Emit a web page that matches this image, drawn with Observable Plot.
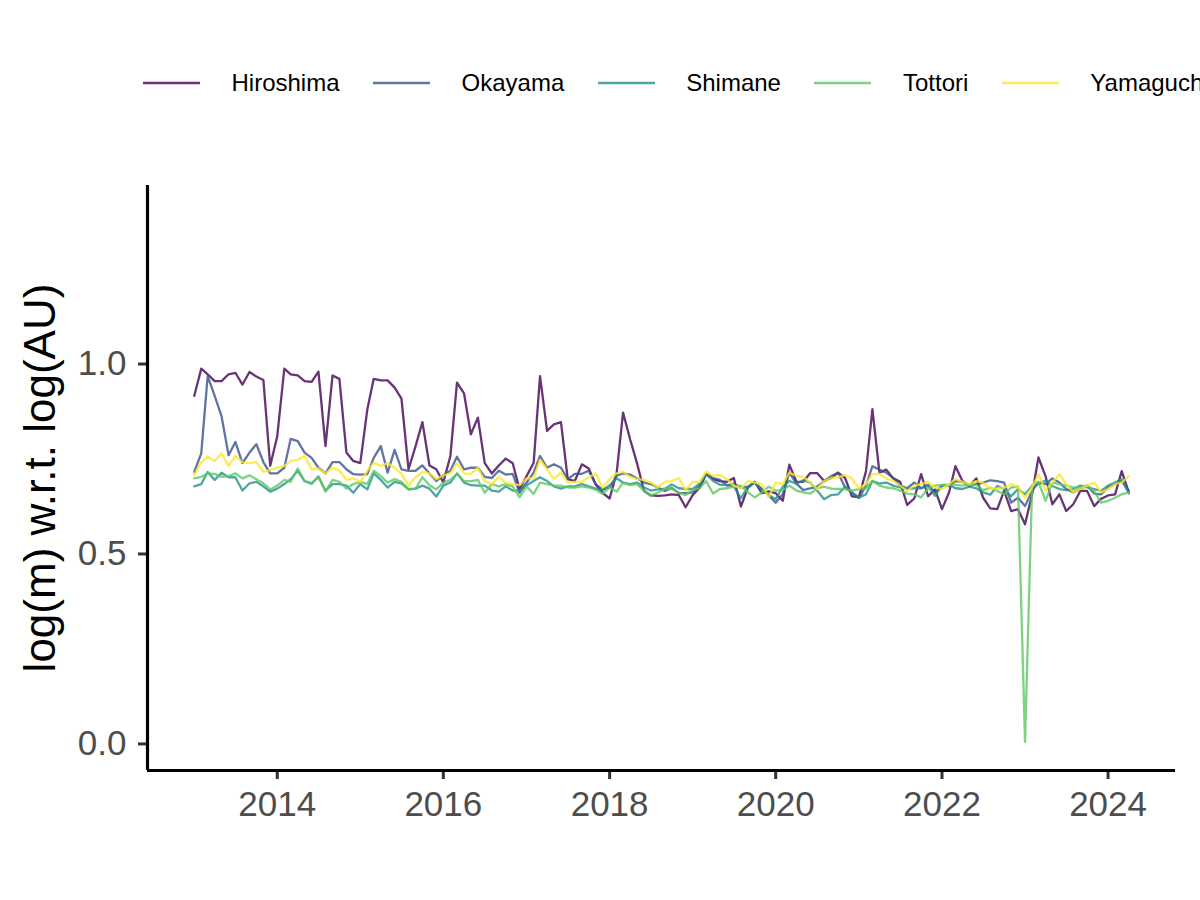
<!DOCTYPE html>
<html><head><meta charset="utf-8">
<script src="https://cdn.jsdelivr.net/npm/d3@7"></script>
<script src="https://cdn.jsdelivr.net/npm/@observablehq/plot@0.6"></script>
<style>
html,body{margin:0;background:#fff;overflow:hidden;}
#wrap{position:relative;width:1200px;height:900px;overflow:hidden;font-family:"Liberation Sans",Arial,sans-serif;}
#legend{position:absolute;left:143px;top:71px;display:flex;align-items:center;white-space:nowrap;height:24px;line-height:24px;font-size:24px;color:#000;}
.item{display:flex;align-items:center;margin-right:33.5px;flex:none;}
.item svg{margin-right:31.5px;display:block;}
</style></head>
<body><div id="wrap"><div id="chart"></div><div id="legend"></div></div>
<script>
// ---- data (monthly, starting January 2013) ----
const startYear = 2013, startMonth = 0;
const names = ["Hiroshima", "Okayama", "Shimane", "Tottori", "Yamaguchi"];
const colors = ["#440154", "#3B528B", "#21908C", "#5DC863", "#FDE725"];

const hiroshima = [0.916,0.988,0.973,0.955,0.955,0.973,0.977,0.946,0.979,0.967,0.958,0.732,0.81,0.988,0.973,0.970,0.955,0.953,0.98,0.784,0.970,0.961,0.767,0.745,0.739,0.881,0.961,0.957,0.957,0.938,0.909,0.723,0.784,0.847,0.733,0.723,0.688,0.758,0.951,0.923,0.815,0.859,0.739,0.712,0.733,0.751,0.739,0.670,0.705,0.740,0.968,0.824,0.841,0.847,0.697,0.692,0.736,0.725,0.683,0.661,0.646,0.714,0.872,0.802,0.740,0.666,0.654,0.653,0.654,0.657,0.655,0.623,0.655,0.675,0.71,0.697,0.692,0.69,0.70,0.625,0.675,0.69,0.66,0.665,0.66,0.64,0.735,0.69,0.69,0.713,0.713,0.692,0.70,0.714,0.700,0.652,0.650,0.718,0.881,0.714,0.722,0.699,0.690,0.629,0.646,0.710,0.652,0.670,0.618,0.662,0.731,0.692,0.679,0.699,0.648,0.620,0.618,0.666,0.613,0.618,0.578,0.657,0.754,0.705,0.631,0.657,0.613,0.631,0.666,0.666,0.626,0.645,0.654,0.657,0.718,0.662];
const okayama = [0.716,0.765,0.968,0.916,0.863,0.760,0.795,0.739,0.767,0.789,0.742,0.712,0.712,0.727,0.803,0.797,0.767,0.753,0.727,0.712,0.742,0.742,0.723,0.710,0.709,0.71,0.753,0.784,0.714,0.774,0.723,0.719,0.719,0.733,0.712,0.692,0.707,0.719,0.756,0.723,0.727,0.727,0.703,0.70,0.719,0.709,0.711,0.661,0.688,0.714,0.758,0.727,0.736,0.727,0.697,0.711,0.711,0.719,0.683,0.670,0.675,0.706,0.712,0.709,0.699,0.688,0.684,0.675,0.666,0.674,0.66,0.66,0.662,0.68,0.71,0.70,0.695,0.68,0.685,0.675,0.677,0.688,0.671,0.655,0.635,0.657,0.714,0.685,0.668,0.673,0.677,0.692,0.705,0.714,0.675,0.662,0.647,0.68,0.731,0.722,0.714,0.699,0.68,0.673,0.688,0.673,0.682,0.662,0.68,0.68,0.692,0.690,0.68,0.684,0.688,0.694,0.692,0.688,0.635,0.648,0.626,0.666,0.688,0.684,0.699,0.688,0.671,0.662,0.671,0.680,0.659,0.657,0.675,0.684,0.692,0.666];
const shimane = [0.678,0.684,0.716,0.695,0.714,0.702,0.702,0.667,0.686,0.690,0.678,0.664,0.672,0.684,0.697,0.719,0.692,0.686,0.703,0.667,0.684,0.684,0.680,0.661,0.684,0.670,0.712,0.695,0.675,0.690,0.686,0.670,0.672,0.680,0.672,0.651,0.680,0.688,0.712,0.688,0.681,0.680,0.680,0.667,0.664,0.678,0.667,0.667,0.681,0.692,0.702,0.692,0.678,0.672,0.678,0.678,0.684,0.678,0.672,0.667,0.681,0.699,0.688,0.684,0.688,0.675,0.667,0.670,0.672,0.683,0.673,0.671,0.671,0.685,0.711,0.692,0.682,0.682,0.677,0.647,0.677,0.688,0.671,0.655,0.644,0.677,0.692,0.685,0.694,0.688,0.667,0.644,0.655,0.657,0.677,0.662,0.649,0.657,0.692,0.685,0.688,0.68,0.675,0.671,0.673,0.673,0.68,0.653,0.68,0.682,0.673,0.671,0.677,0.673,0.662,0.656,0.679,0.671,0.652,0.671,0.657,0.679,0.684,0.693,0.679,0.671,0.668,0.671,0.680,0.675,0.671,0.666,0.680,0.688,0.697,0.659];
const tottori = [0.699,0.703,0.712,0.711,0.703,0.705,0.712,0.699,0.707,0.697,0.686,0.670,0.680,0.695,0.690,0.725,0.692,0.684,0.705,0.664,0.695,0.690,0.672,0.684,0.690,0.684,0.719,0.705,0.688,0.697,0.690,0.670,0.672,0.702,0.681,0.670,0.688,0.695,0.711,0.692,0.692,0.695,0.661,0.684,0.678,0.684,0.678,0.649,0.678,0.658,0.688,0.684,0.680,0.680,0.675,0.675,0.678,0.675,0.669,0.658,0.675,0.664,0.688,0.681,0.684,0.667,0.654,0.662,0.672,0.671,0.662,0.655,0.668,0.673,0.692,0.659,0.671,0.673,0.677,0.68,0.662,0.649,0.662,0.677,0.667,0.668,0.68,0.667,0.662,0.659,0.673,0.677,0.672,0.671,0.671,0.667,0.671,0.673,0.692,0.68,0.675,0.673,0.667,0.659,0.657,0.649,0.673,0.68,0.682,0.682,0.682,0.68,0.682,0.682,0.668,0.674,0.666,0.657,0.675,0.678,0.005,0.68,0.69,0.64,0.688,0.684,0.680,0.675,0.675,0.680,0.666,0.635,0.640,0.648,0.657,0.662];
const yamaguchi = [0.707,0.742,0.756,0.745,0.765,0.732,0.758,0.742,0.739,0.742,0.716,0.721,0.727,0.732,0.745,0.748,0.758,0.723,0.725,0.712,0.727,0.719,0.695,0.699,0.690,0.719,0.740,0.732,0.739,0.727,0.711,0.680,0.702,0.716,0.712,0.697,0.707,0.712,0.739,0.712,0.711,0.727,0.692,0.684,0.703,0.688,0.684,0.681,0.699,0.699,0.748,0.723,0.697,0.714,0.688,0.690,0.690,0.702,0.711,0.675,0.697,0.712,0.716,0.703,0.697,0.695,0.688,0.675,0.690,0.692,0.700,0.668,0.690,0.690,0.717,0.706,0.708,0.697,0.680,0.673,0.692,0.688,0.684,0.649,0.688,0.684,0.714,0.706,0.703,0.688,0.671,0.692,0.70,0.702,0.708,0.699,0.673,0.684,0.710,0.711,0.699,0.692,0.68,0.666,0.68,0.684,0.690,0.675,0.671,0.684,0.697,0.690,0.684,0.692,0.688,0.672,0.672,0.675,0.684,0.677,0.648,0.675,0.710,0.667,0.688,0.710,0.684,0.662,0.671,0.680,0.688,0.662,0.671,0.684,0.688,0.705];

const yTicks = [0, 0.5, 1.0];
const xTickYears = [2014, 2016, 2018, 2020, 2022, 2024];
const yTitle = "log(m) w.r.t. log(AU)";

// ---- build table ----
const seriesValues = [hiroshima, okayama, shimane, tottori, yamaguchi];
const rows = names.flatMap((n, k) => seriesValues[k].map((v, i) => ({
  date: new Date(Date.UTC(startYear, startMonth + i, 1)), value: v, prefecture: n
})));
const [d0, d1] = d3.extent(rows, d => d.date);
const pad = (d1 - d0) * 0.05;
const xDomain = [new Date(+d0 - pad), new Date(+d1 + pad)];
const xTicks = xTickYears.map(y => new Date(Date.UTC(y, 0, 1)));
const font = '"Liberation Sans", Arial, sans-serif';

const chart = Plot.plot({
  width: 1200, height: 900,
  marginLeft: 147, marginRight: 25, marginTop: 185, marginBottom: 130,
  style: {fontFamily: font, background: "white", overflow: "visible"},
  x: {type: "utc", domain: xDomain},
  y: {domain: [-0.07, 1.47]},
  color: {domain: names, range: colors},
  marks: [
    Plot.axisY({ticks: yTicks, tickFormat: d3.format(".1f"), tickSize: 9, tickPadding: 12,
      fontSize: 35, fill: "#4d4d4d", stroke: "#333333", strokeWidth: 3, label: null}),
    Plot.axisX({ticks: xTicks, tickFormat: d3.utcFormat("%Y"), tickSize: 9, tickPadding: 12,
      fontSize: 35, fill: "#4d4d4d", stroke: "#333333", strokeWidth: 3, label: null}),
    Plot.line(rows, {x: "date", y: "value", z: "prefecture", stroke: "prefecture",
      strokeWidth: 2.3, strokeOpacity: 0.8}),
    Plot.ruleX([xDomain[0]], {stroke: "black", strokeWidth: 3.2}),
    Plot.ruleY([-0.07], {stroke: "black", strokeWidth: 3.2}),
    Plot.text([yTitle], {frameAnchor: "left", textAnchor: "middle", rotate: -90, dx: -107,
      fontSize: 44, fill: "black"})
  ]
});
document.getElementById("chart").appendChild(chart);

// ---- legend ----
const legend = document.getElementById("legend");
names.forEach((n, k) => {
  const item = document.createElement("div");
  item.className = "item";
  item.innerHTML = `<svg width="57" height="24"><line x1="0" x2="57" y1="12" y2="12" stroke="${colors[k]}" stroke-opacity="0.8" stroke-width="2.7"/></svg><span>${n}</span>`;
  legend.appendChild(item);
});
</script>
</body></html>
